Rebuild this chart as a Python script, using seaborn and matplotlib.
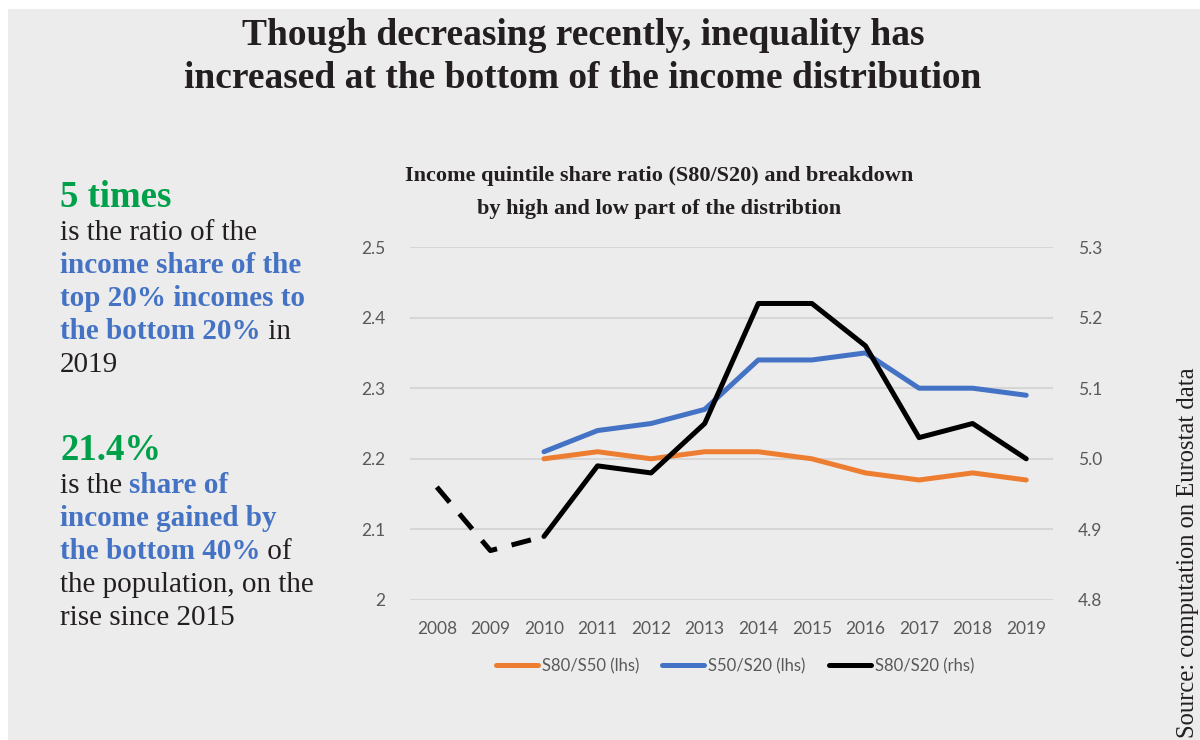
import matplotlib
matplotlib.use("Agg")
import matplotlib.pyplot as plt
import numpy as np
import pandas as pd
import seaborn as sns
from matplotlib.lines import Line2D
from matplotlib.patches import Rectangle

years = [2008, 2009, 2010, 2011, 2012, 2013, 2014, 2015, 2016, 2017, 2018, 2019]
s80_s50 = [np.nan, np.nan, 2.20, 2.21, 2.20, 2.21, 2.21, 2.20, 2.18, 2.17, 2.18, 2.17]
s50_s20 = [np.nan, np.nan, 2.21, 2.24, 2.25, 2.27, 2.34, 2.34, 2.35, 2.30, 2.30, 2.29]
s80_s20 = [4.96, 4.87, 4.89, 4.99, 4.98, 5.05, 5.22, 5.22, 5.16, 5.03, 5.05, 5.00]
break_year = 2010  # S80/S20 drawn dashed before this year

left_ticks = [2.0, 2.1, 2.2, 2.3, 2.4, 2.5]
left_labels = ["2", "2.1", "2.2", "2.3", "2.4", "2.5"]
right_ticks = [4.8, 4.9, 5.0, 5.1, 5.2, 5.3]

ORANGE = "#ED7D31"
BLUE = "#4472C4"
GREEN = "#00A04A"
INK = "#231F20"
TICK = "#595959"
PANEL = "#ECECEC"

df = pd.DataFrame({"year": years, "S80/S50": s80_s50, "S50/S20": s50_s20, "S80/S20": s80_s20})

sns.set_theme(style="white")
plt.rcParams["font.family"] = ["Lato", "DejaVu Sans"]
SERIF = ["Liberation Serif", "DejaVu Serif"]

fig = plt.figure(figsize=(12, 7.4), dpi=100, facecolor="white")
fig.add_artist(Rectangle((8 / 1200, 0), 1, 1 - 9 / 740, transform=fig.transFigure,
                         facecolor=PANEL, edgecolor="none", zorder=-10))

ax = fig.add_axes([410 / 1200, 1 - 600 / 740, 643 / 1200, 353 / 740])
ax.set_facecolor("none")
ax2 = ax.twinx()
ax2.set_facecolor("none")

lw = 3.6
sns.lineplot(data=df, x="year", y="S80/S50", ax=ax, color=ORANGE, linewidth=lw)
sns.lineplot(data=df, x="year", y="S50/S20", ax=ax, color=BLUE, linewidth=lw)
solid = df[df["year"] >= break_year]
dashed = df[df["year"] <= break_year]
sns.lineplot(data=solid, x="year", y="S80/S20", ax=ax2, color="black", linewidth=lw)
sns.lineplot(data=dashed, x="year", y="S80/S20", ax=ax2, color="black", linewidth=lw)
ax2.lines[-1].set_dashes((4, 3))

ax.set_ylim(2.0, 2.5)
ax2.set_ylim(4.8, 5.3)
ax.set_xlim(2007.5, 2019.5)
ax.set_yticks(left_ticks)
ax.set_yticklabels(left_labels)
ax2.set_yticks(right_ticks)
ax2.set_yticklabels([f"{t:.1f}" for t in right_ticks])
ax.set_xticks(years)
ax.set_xticklabels([str(y) for y in years])
for a in (ax, ax2):
    a.set_xlabel("")
    a.set_ylabel("")
    for s in a.spines.values():
        s.set_visible(False)
    a.tick_params(length=0, labelsize=12.5, colors=TICK)
ax.tick_params(axis="y", pad=18)
ax2.tick_params(axis="y", pad=18)
ax.tick_params(axis="x", pad=15)
ax.yaxis.grid(True, color="#D6D6D6", linewidth=1.5)
ax.set_axisbelow(True)

handles = [Line2D([], [], color=c, linewidth=lw) for c in (ORANGE, BLUE, "black")]
fig.legend(handles, ["S80/S50 (lhs)", "S50/S20 (lhs)", "S80/S20 (rhs)"],
           loc="center", bbox_to_anchor=(735 / 1200, 1 - 666 / 740), ncol=3, frameon=False,
           fontsize=12, handlelength=2.5, handletextpad=0.25, columnspacing=1.4,
           labelcolor=TICK)

# titles
fig.text(583 / 1200, 1 - 18 / 740, "Though decreasing recently, inequality has\nincreased at the bottom of the income distribution",
         ha="center", va="top", fontsize=27, fontweight="bold", family=SERIF, color=INK,
         linespacing=1.28)
fig.text(659 / 1200, 1 - 166 / 740, "Income quintile share ratio (S80/S20) and breakdown\nby high and low part of the distribtion",
         ha="center", va="top", fontsize=16, fontweight="bold", family=SERIF, color=INK,
         linespacing=1.84)

# source
fig.text(1188 / 1200, 1 - 553 / 740, "Source: computation on Eurostat data", rotation=90,
         ha="center", va="center", fontsize=17.7, family=SERIF, color=INK)

# left-hand key figures, mixed colours on one line
BODY = 21


def block(y0, head, lines):
    fig.text(60 / 1200, 1 - y0 / 740, head, ha="left", va="baseline", fontsize=26.5,
             fontweight="bold", family=SERIF, color=GREEN)
    for i, parts in enumerate(lines):
        y = y0 + 33 + 33 * i
        prev = None
        for txt, color, weight in parts:
            if prev is None:
                prev = fig.text(60 / 1200, 1 - y / 740, txt, ha="left", va="baseline",
                                fontsize=BODY, fontweight=weight, family=SERIF, color=color)
            else:
                prev = ax.annotate(txt, xy=(1, 0), xycoords=prev, ha="left", va="bottom",
                                   fontsize=BODY, fontweight=weight, family=SERIF, color=color,
                                   annotation_clip=False)


N = "normal"
B = "bold"
block(207, "5 times", [
    [("is the ratio of the", INK, N)],
    [("income share of the", BLUE, B)],
    [("top 20% incomes to", BLUE, B)],
    [("the bottom 20%", BLUE, B), (" in", INK, N)],
    [("2019", INK, N)],
])
block(460, "21.4%", [
    [("is the ", INK, N), ("share of", BLUE, B)],
    [("income gained by", BLUE, B)],
    [("the bottom 40%", BLUE, B), (" of", INK, N)],
    [("the population, on the", INK, N)],
    [("rise since 2015", INK, N)],
])

fig.savefig("out.png", dpi=100, facecolor="white")
